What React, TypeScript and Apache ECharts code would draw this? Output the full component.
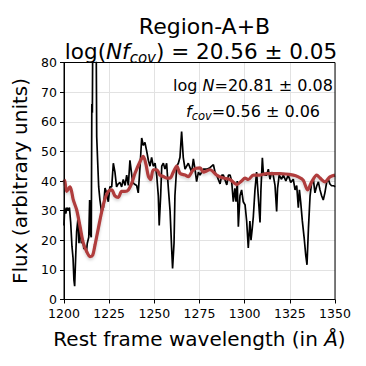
import React, { useEffect, useRef } from "react";
import * as echarts from "echarts";

const specWave = [1200.0,1200.4,1201.0,1201.6,1202.3,1203.0,1203.7,1204.4,1205.0,1205.5,1205.9,1206.5,1207.0,1207.7,1208.3,1208.9,1209.6,1210.5,1211.0,1211.4,1212.4,1212.9,1213.7,1214.2,1214.6,1215.1,1215.4,1215.7,1216.0,1217.0,1217.7,1218.1,1218.6,1219.2,1219.9,1220.8,1221.8,1222.7,1223.6,1224.5,1225.4,1226.4,1227.3,1228.2,1229.1,1230.0,1231.0,1231.9,1232.8,1233.8,1234.7,1235.6,1236.5,1237.1,1238.0,1238.9,1240.2,1241.1,1242.1,1243.0,1243.9,1244.8,1245.8,1246.7,1247.6,1248.5,1249.4,1250.4,1251.3,1252.2,1252.7,1253.5,1254.1,1255.0,1255.9,1256.8,1257.7,1258.7,1259.6,1260.1,1260.9,1261.4,1262.4,1263.3,1264.2,1265.1,1266.0,1267.0,1267.9,1268.8,1270.7,1271.6,1272.5,1273.4,1274.4,1275.3,1277.1,1279.0,1280.8,1282.7,1283.6,1284.5,1286.4,1287.3,1288.2,1290.1,1291.0,1291.9,1292.8,1293.7,1294.6,1295.2,1295.9,1296.5,1297.4,1298.3,1299.2,1300.2,1301.1,1302.0,1302.9,1303.5,1304.2,1304.8,1305.7,1306.6,1307.5,1308.5,1309.0,1309.8,1310.3,1311.2,1312.2,1313.1,1314.0,1314.9,1315.8,1316.8,1317.7,1318.2,1319.1,1320.4,1321.4,1322.8,1324.1,1325.5,1326.9,1327.9,1328.8,1329.7,1330.3,1331.0,1331.9,1332.9,1333.8,1334.5,1335.3,1336.2,1337.1,1338.0,1338.9,1339.9,1340.8,1341.7,1342.6,1343.5,1344.4,1345.4,1346.3,1347.2,1348.1,1349.4,1350.0];
const specFlux = [25,31,29,31,30,31,26,18,14,6.5,4.5,15,23,27,19,25,19,20,17,18,16,19,21,33.6,22,21,66,63,100,100,100,55,47,38,33.5,29.5,31,37.6,36,33,38,38,46,43,38,39,39.5,38,40.5,38.5,42,38.5,47,44,39.5,39,38.5,36,45,54.5,52,53,50,47,45,48,45,46,42,35,25,35,45,46,44,46,38,30,17,10.5,19,35,45,46,48,56.7,48,44,45,46,43,47.5,44,39.8,43,42,44,44,44.5,45.5,43,42,39,42,42,38.7,42,42,40,33,37.5,33,40,24.6,35,37,33,32,26.5,17.4,26.5,20,24,28,37,43,35,26,37,47.8,43,42,42,44,40.6,43,42,38.5,29.7,37.5,42,40.6,42,40,42,39.5,40.6,37,38.5,31,37,33,26.6,21,15,11.7,24,35,39.7,40.6,36,38.4,39.7,37,35,33.6,36,39.6,40.6,39,38.4,38.4,38];

const modelWave = [1200,1200.5,1201.5,1203.3,1204.2,1205.1,1207,1208.9,1210.7,1212.6,1214.4,1215.9,1217.2,1219,1220.9,1222.7,1224.5,1226.4,1228.2,1230.1,1231.9,1233.8,1235.6,1237.5,1239.3,1242.1,1243.9,1245.4,1246.7,1248,1249.4,1251.3,1253.1,1255,1256.8,1258.7,1260.5,1262.4,1264.2,1267,1268.8,1271.6,1275.3,1277.1,1280.8,1284.5,1288.2,1291.9,1295.6,1298.3,1300.2,1302,1304.8,1308.5,1312.2,1319.5,1326.9,1329.7,1332.4,1334.8,1337.1,1339.9,1341.7,1344.4,1347.2,1350];
const modelFlux = [40.5,39.8,36.5,38,36.5,33.7,30.3,24.6,19,16.1,14.5,15,18.5,24,29.7,34,36.5,37,35,34.5,36.5,36.5,37,39.3,42.6,46.6,48.3,45.5,41.6,40.5,43.8,43.8,42,41.5,41,41,43,45,42.6,42,41.5,43.8,44.4,43,43.8,42,41,40.5,38.8,40,41,40.5,42,42,42.5,42.5,42,41.4,40.3,37,39.7,42,41,39.7,41.4,42];

const titleLine1 = "Region-A+B";
const logNText = "20.81 ± 0.08";
const fcovText = "0.56 ± 0.06";
const logNfText = "20.56 ± 0.05";

const FONT = "DejaVu Sans";

export default function App() {
  const ref = useRef<HTMLDivElement>(null);
  useEffect(() => {
    if (!ref.current) return;
    const chart = echarts.init(ref.current, null, { renderer: "svg" });
    const spec = specWave.map((w, i) => [w, specFlux[i]]);
    const model = modelWave.map((w, i) => [w, modelFlux[i]]);
    chart.setOption({
      animation: false,
      backgroundColor: "#ffffff",
      textStyle: { fontFamily: FONT },
      title: [
        {
          text: titleLine1,
          left: 199.5,
          textAlign: "center",
          top: 8,
          textStyle: { fontFamily: FONT, fontSize: 22, fontWeight: "normal", color: "#000", lineHeight: 26 },
        },
        {
          text: `{n|log(}{i|Nf}{s|cov}{n|) = ${logNfText}}`,
          left: 196,
          textAlign: "center",
          top: 32,
          textStyle: {
            fontFamily: FONT,
            fontWeight: "normal",
            color: "#000",
            rich: {
              n: { fontFamily: FONT, fontSize: 21.5, color: "#000", lineHeight: 28, verticalAlign: "middle" },
              i: { fontFamily: FONT, fontSize: 21.5, fontStyle: "italic", color: "#000", lineHeight: 28, verticalAlign: "middle" },
              s: { fontFamily: FONT, fontSize: 15, fontStyle: "italic", color: "#000", lineHeight: 28, verticalAlign: "bottom", padding: [9, 0, 0, 0] },
            },
          },
        },
      ],
      grid: { left: 64, right: 31, top: 62.5, bottom: 66.5, outerBoundsMode: "none", show: false },
      xAxis: {
        type: "value",
        min: 1200,
        max: 1350,
        interval: 25,
        name: "Rest frame wavelength (in {it|Å})",
        nameLocation: "middle",
        nameGap: 29,
        nameTextStyle: {
          fontFamily: FONT,
          fontSize: 20,
          color: "#000",
          rich: { it: { fontFamily: FONT, fontSize: 20, fontStyle: "italic", color: "#000" } },
        },
        axisLine: { show: true, onZero: false, lineStyle: { color: "#000", width: 1 } },
        axisTick: { show: true, inside: false, length: 4, lineStyle: { color: "#000" } },
        axisLabel: { fontFamily: FONT, fontSize: 12.5, color: "#000", margin: 7, formatter: (v: number) => String(v) },
        splitLine: { show: true, lineStyle: { color: "#e2e2e2", width: 1 } },
      },
      yAxis: {
        type: "value",
        min: 0,
        max: 80,
        interval: 10,
        name: "Flux (arbitrary units)",
        nameLocation: "middle",
        nameGap: 33,
        nameTextStyle: { fontFamily: FONT, fontSize: 20, color: "#000" },
        axisLine: { show: true, onZero: false, lineStyle: { color: "#000", width: 1 } },
        axisTick: { show: true, inside: false, length: 4, lineStyle: { color: "#000" } },
        axisLabel: { fontFamily: FONT, fontSize: 12.5, color: "#000", margin: 7, formatter: (v: number) => String(v) },
        splitLine: { show: true, lineStyle: { color: "#e2e2e2", width: 1 } },
      },
      graphic: [
        {
          type: "rect",
          shape: { x: 64, y: 62.5, width: 271, height: 237 },
          style: { fill: "none", stroke: "#000", lineWidth: 1 },
          z: 100,
          silent: true,
        },
        {
          type: "text",
          x: 253,
          y: 85,
          style: {
            text: `{n|log}{i| N}{n|=${logNText}}`,
            align: "center",
            verticalAlign: "middle",
            rich: {
              n: { fontFamily: FONT, fontSize: 16, fill: "#000" },
              i: { fontFamily: FONT, fontSize: 16, fontStyle: "italic", fill: "#000" },
            },
          },
          z: 101,
        },
        {
          type: "text",
          x: 253,
          y: 111,
          style: {
            text: `{i|f}{s|cov}{n|=${fcovText}}`,
            align: "center",
            verticalAlign: "middle",
            rich: {
              n: { fontFamily: FONT, fontSize: 16, fill: "#000", lineHeight: 22, verticalAlign: "middle" },
              i: { fontFamily: FONT, fontSize: 16, fontStyle: "italic", fill: "#000", lineHeight: 22, verticalAlign: "middle" },
              s: { fontFamily: FONT, fontSize: 11.5, fontStyle: "italic", fill: "#000", lineHeight: 22, verticalAlign: "bottom", padding: [7, 0, 0, 0] },
            },
          },
          z: 101,
        },
      ],
      series: [
        {
          type: "line",
          data: spec,
          showSymbol: false,
          symbol: "none",
          clip: true,
          lineStyle: { color: "#000", width: 1.7 },
          z: 2,
        },
        {
          type: "line",
          data: model,
          showSymbol: false,
          symbol: "none",
          smooth: 0.3,
          clip: true,
          lineStyle: {
            color: "#b03c3c",
            width: 3.2,
            shadowColor: "rgba(0,0,0,0.18)",
            shadowBlur: 3,
            shadowOffsetY: 2,
          },
          z: 3,
        },
      ],
    });
    return () => chart.dispose();
  }, []);
  return <div ref={ref} style={{ width: 366, height: 366, position: "absolute", left: 0, top: 0 }} />;
}
